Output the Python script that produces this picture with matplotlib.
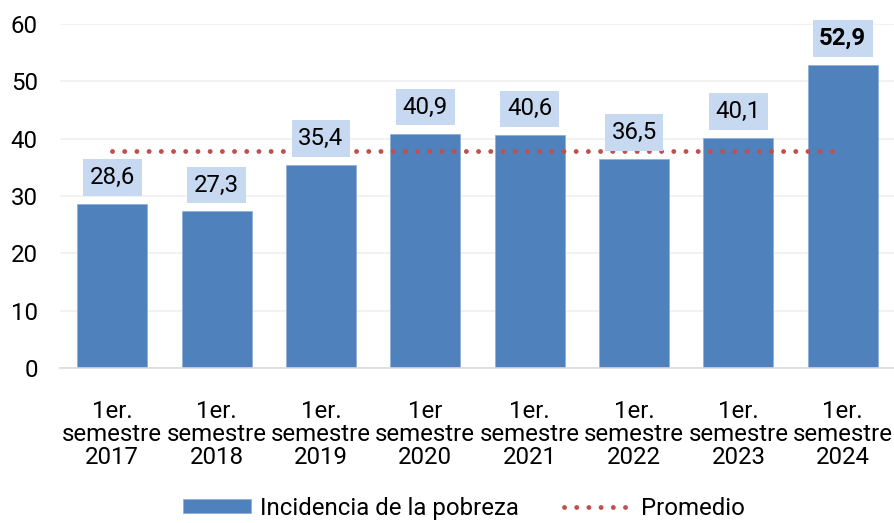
"""
Incidencia de la pobreza por semestre, con línea de promedio.
"""

import matplotlib.pyplot as plt

# Datos
categorias = ['1er.\nsemestre\n2017', '1er.\nsemestre\n2018', '1er.\nsemestre\n2019',
              '1er\nsemestre\n2020', '1er.\nsemestre\n2021', '1er.\nsemestre\n2022',
              '1er.\nsemestre\n2023', '1er.\nsemestre\n2024']
pobreza = [28.6, 27.3, 35.4, 40.9, 40.6, 36.5, 40.1, 52.9]
promedio = [37.8] * len(pobreza)
etiquetas = ['28,6', '27,3', '35,4', '40,9', '40,6', '36,5', '40,1', '52,9']

# Estilo
plt.rcParams['font.family'] = ['Roboto', 'DejaVu Sans']
plt.rcParams['font.size'] = 17.3

color_barra = '#4f81bd'
color_prom = '#c0504d'
color_caja = '#c6d9f1'

fig = plt.figure(figsize=(8.95, 5.23), dpi=100)
ax = fig.add_axes([60 / 895, 1 - 368 / 523, 835 / 895, 344 / 523])

x = list(range(len(categorias)))

# Barras
barras = ax.bar(x, pobreza, width=0.67, color=color_barra, edgecolor='#8fb0d8',
                linewidth=0.6, label='Incidencia de la pobreza', zorder=2)

# Línea de promedio
linea, = ax.plot(x, promedio, color=color_prom, linewidth=3.5,
                 linestyle=(0, (0.01, 2.5)), dash_capstyle='round',
                 label='Promedio', zorder=3)

# Etiquetas de valores
for i, (v, txt) in enumerate(zip(pobreza, etiquetas)):
    ax.annotate(txt, (i, v), xytext=(0, 19), textcoords='offset points',
                ha='center', va='center', fontsize=17.3,
                fontweight='bold' if i == len(pobreza) - 1 else 'normal',
                bbox=dict(boxstyle='square,pad=0.28', facecolor=color_caja,
                          edgecolor='none'), zorder=4)

# Ejes
ax.set_xlim(-0.5, len(categorias) - 0.5)
ax.set_ylim(0, 60)
ax.set_yticks(range(0, 61, 10))
ax.set_xticks(x)
ax.set_xticklabels(categorias, linespacing=1.0)
ax.tick_params(axis='both', length=0)
ax.tick_params(axis='y', pad=16)
ax.tick_params(axis='x', pad=23)

for s in ['top', 'right', 'left']:
    ax.spines[s].set_visible(False)
ax.spines['bottom'].set_color('#d9d9d9')
ax.spines['bottom'].set_linewidth(1.2)

ax.grid(True, axis='y', color='#f0f0f0', linewidth=1.2, zorder=0)
ax.set_axisbelow(True)

# Leyenda
fig.legend([barras, linea], ['Incidencia de la pobreza', 'Promedio'],
           loc='lower center', bbox_to_anchor=(464 / 895, -0.035), ncol=2,
           frameon=False, fontsize=17.3, handlelength=2.83, handleheight=0.5,
           handletextpad=0.37, columnspacing=1.87)

plt.savefig('out.png', dpi=100)
plt.close()
